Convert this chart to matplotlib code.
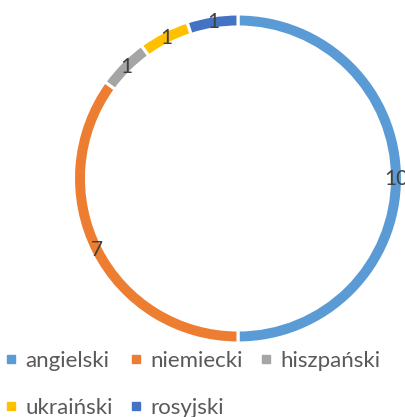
import matplotlib.pyplot as plt
from matplotlib.lines import Line2D

# data
languages = ['angielski', 'niemiecki', 'hiszpański', 'ukraiński', 'rosyjski']
counts = [10, 7, 1, 1, 1]
colors = ['#5B9BD5', '#ED7D31', '#A5A5A5', '#FFC000', '#4472C4']

plt.rcParams['font.family'] = ['Lato', 'DejaVu Sans']

W, H = 406, 417
fig = plt.figure(figsize=(W / 100, H / 100), dpi=100)
ax = fig.add_axes([0, 0, 1, 1])

R = 164.5
ring = 13
wedges, texts = ax.pie(counts, colors=colors, labels=[str(c) for c in counts],
                       startangle=90, counterclock=False,
                       center=(238, H - 178.5), radius=R,
                       labeldistance=(R - ring / 2) / R,
                       wedgeprops=dict(width=ring, edgecolor='white', linewidth=2.2),
                       textprops=dict(fontsize=15, color='#404040'))
for t in texts:
    t.set_ha('center')
    t.set_va('center')

# pie resets the limits, so set them afterwards
ax.set_xlim(0, W)
ax.set_ylim(0, H)
ax.set_aspect('equal')
ax.axis('off')

# legend, row-major order for 3 columns
order = [0, 3, 1, 4, 2]
handles = [Line2D([], [], marker='s', linestyle='none', markersize=5.2,
                  markerfacecolor=colors[i], markeredgecolor=colors[i]) for i in order]
fig.legend(handles, [languages[i] for i in order], ncol=3,
           loc='upper left', bbox_to_anchor=(4 / W, 1 - 351 / H),
           frameon=False, fontsize=16, labelcolor='#595959',
           handlelength=0.6, handletextpad=0.35, columnspacing=0.75,
           labelspacing=1.2, borderpad=0, borderaxespad=0)

fig.savefig('out.png', dpi=100)
